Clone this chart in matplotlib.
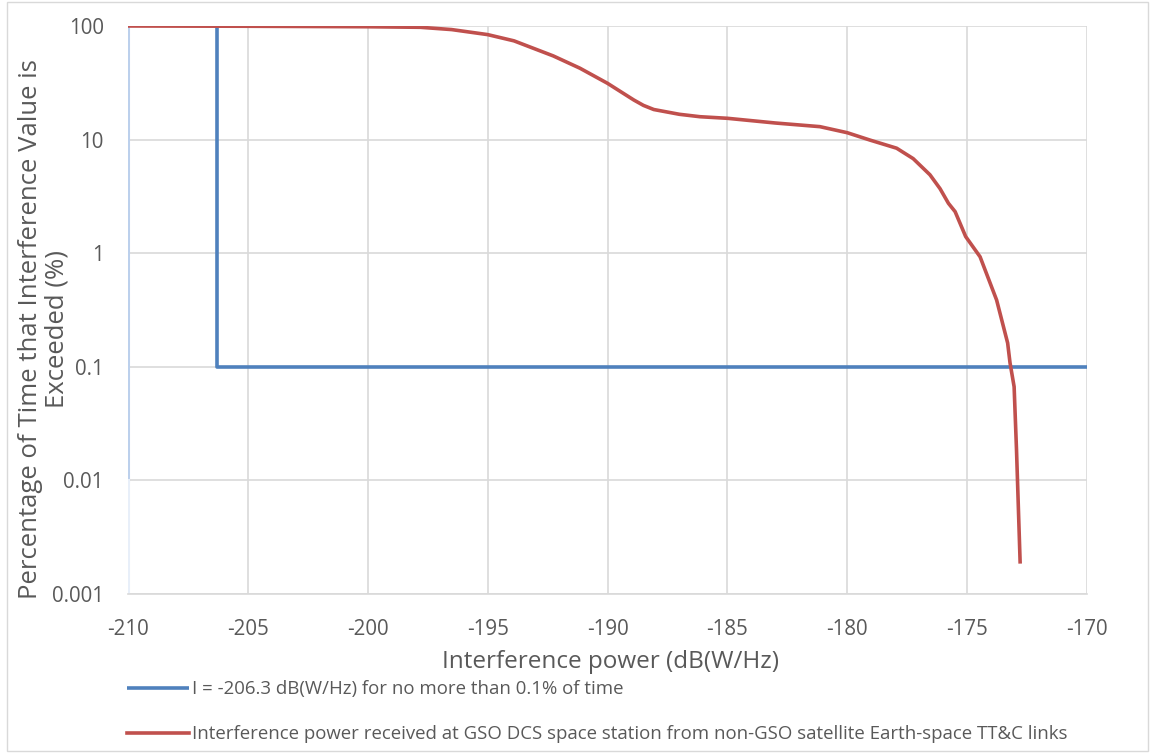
import numpy as np
import matplotlib
matplotlib.use("Agg")
import matplotlib.pyplot as plt

plt.rcParams["font.family"] = ["Open Sans", "DejaVu Sans"]

# limit mask (blue step)
limit_x = [-206.3, -206.3, -170.0]
limit_y = [100, 0.1, 0.1]

# faint edge series at -210
edge_x = [-210.0, -210.0]
edge_y = [100, 0.01, 0.001]

# interference CDF (red)
interf_x = [-210.0, -205.0, -200.0, -197.8, -196.5, -195.0, -193.9, -192.26, -191.15,
            -190.0, -188.9, -188.5, -188.07, -187.0, -186.14, -185.0, -183.0, -181.14,
            -180.0, -179.05, -177.94, -177.25, -176.55, -176.13, -175.78, -175.5,
            -175.06, -174.46, -173.77, -173.31, -173.21, -173.04, -172.94, -172.79]
interf_y = [100, 99.5, 98.5, 97.4, 93, 84, 74, 54.5, 42.5,
            31.3, 22.3, 20.0, 18.4, 16.7, 15.9, 15.4, 14.0, 13.0,
            11.5, 9.9, 8.4, 6.8, 4.9, 3.7, 2.75, 2.32,
            1.40, 0.93, 0.387, 0.162, 0.108, 0.0668, 0.0185, 0.00192]

x_ticks = [-210, -205, -200, -195, -190, -185, -180, -175, -170]
y_ticks = [0.001, 0.01, 0.1, 1, 10, 100]
y_labels = ["0.001", "0.01", "0.1", "1", "10", "100"]

y_title = ["Percentage of Time that Interference Value is", "Exceeded (%)"]
legend_labels = [
    "I = -206.3 dB(W/Hz) for no more than 0.1% of time",
    "Interference power received at GSO DCS space station from non-GSO satellite Earth-space TT&C links",
]

W, H = 1155, 753
fig = plt.figure(figsize=(W / 100, H / 100), dpi=100)
ax = fig.add_axes([128 / W, 1 - 594 / H, (1087 - 128) / W, (594 - 26) / H])

ax.set_yscale("log")
ax.set_xlim(-210, -170)
ax.set_ylim(0.001, 100)
ax.set_xticks(x_ticks)
ax.set_xticklabels([str(v) for v in x_ticks])
ax.set_yticks(y_ticks)
ax.set_yticklabels(y_labels)
ax.yaxis.set_minor_locator(matplotlib.ticker.NullLocator())
ax.tick_params(length=0, labelsize=14.8, colors="#595959")
ax.tick_params(axis="x", pad=18)
ax.tick_params(axis="y", pad=17.5)
ax.grid(True, color="#d9d9d9", linewidth=1.2)
for s in ["top", "right", "left"]:
    ax.spines[s].set_visible(False)
ax.spines["bottom"].set_color("#d9d9d9")
ax.spines["bottom"].set_linewidth(1.2)

ax.plot(edge_x, edge_y[:2], color="#bcd0ec", linewidth=2.2, zorder=2)
ax.plot(edge_x, edge_y[1:], color="#e8eff9", linewidth=2.2, zorder=2)
l1, = ax.plot(limit_x, limit_y, color="#4f81bd", linewidth=2.6, zorder=3, solid_capstyle="butt")
l2, = ax.plot(interf_x, interf_y, color="#c0504d", linewidth=2.6, zorder=4)

ax.set_xlabel("Interference power (dB(W/Hz)", fontsize=17.5, color="#595959")
ax.xaxis.set_label_coords((611 - 128) / 959, -(662 - 594) / 568)
ax.xaxis.label.set_va("center")

# two-line y title, one text per line
fig.text(31 / W, 1 - 329 / H, y_title[0], rotation=90, ha="center", va="center",
         fontsize=18.5, color="#595959")
fig.text(57 / W, 1 - 329 / H, y_title[1], rotation=90, ha="center", va="center",
         fontsize=18.5, color="#595959")

fig.legend([l1, l2], legend_labels, loc="upper left", bbox_to_anchor=(120 / W, 1 - 673 / H),
           frameon=False, fontsize=13.4, labelcolor="#595959", handlelength=3.3,
           handletextpad=0.15, labelspacing=1.45, borderaxespad=0)

fig.patches.append(plt.Rectangle((7 / W, 0.002), 1 - 14 / W, 0.996, transform=fig.transFigure,
                                 fill=False, edgecolor="#d9d9d9", linewidth=1.0))

fig.savefig("out.png", dpi=100)
